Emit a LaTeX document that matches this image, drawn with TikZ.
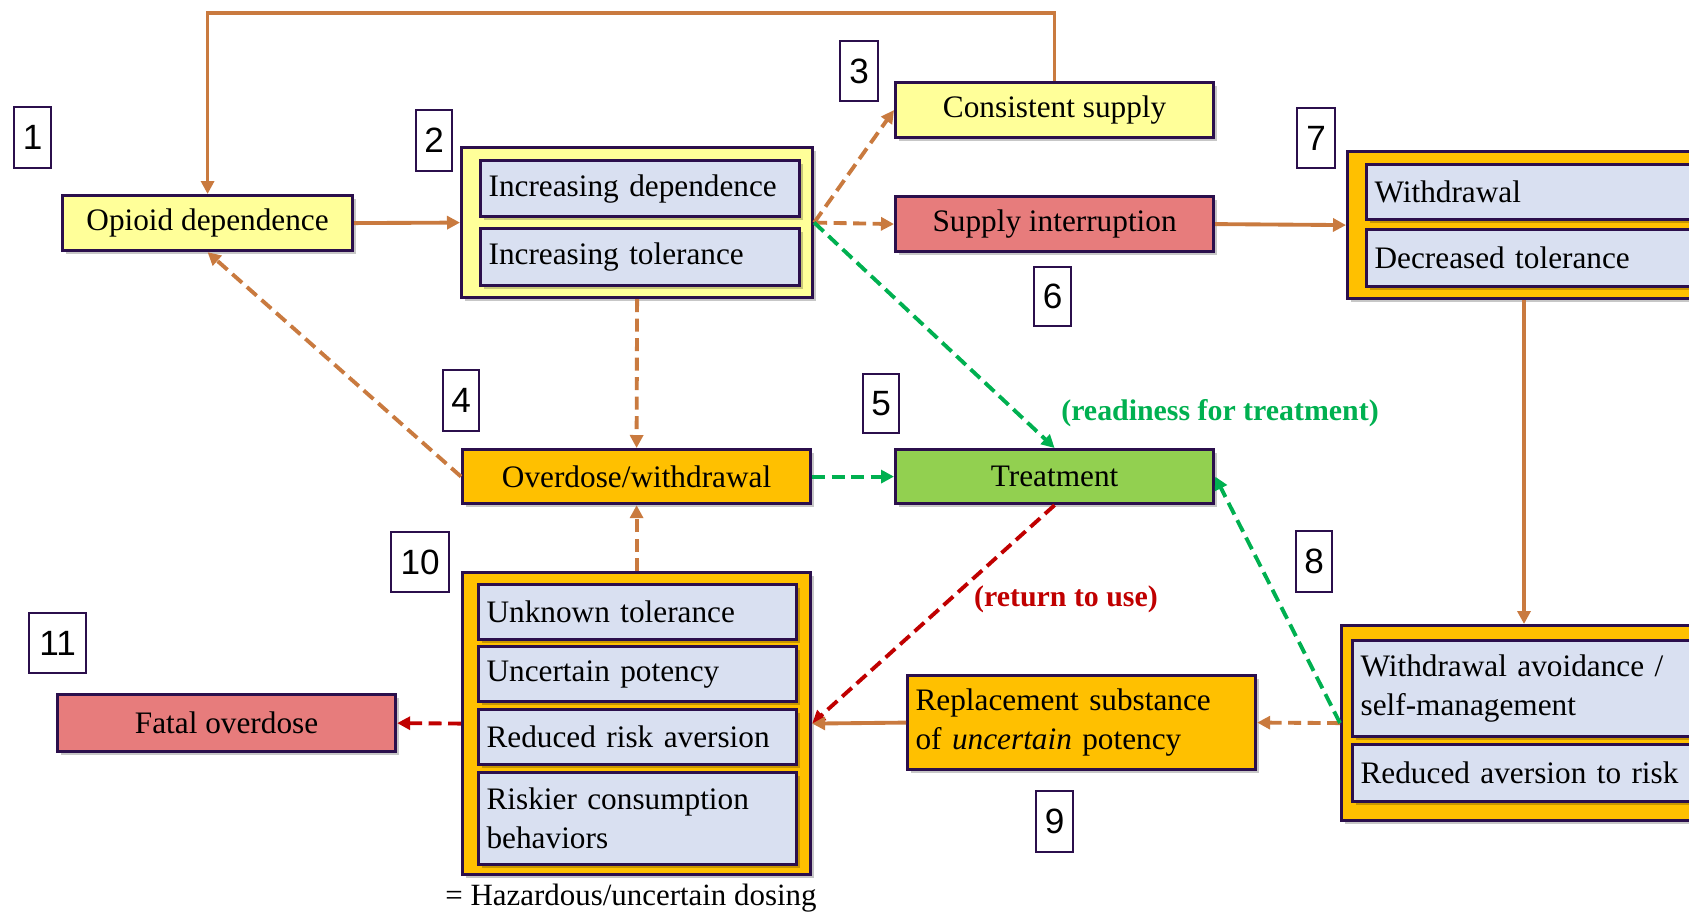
\documentclass[tikz,border=0pt]{standalone}
\usepackage{fontspec}
\setmainfont{Liberation Serif}
\newfontfamily\numfont{Liberation Sans}
\usetikzlibrary{arrows.meta,shadows}
\definecolor{bord}{HTML}{2B0F4C}
\definecolor{yel}{HTML}{FFFF99}
\definecolor{org}{HTML}{FFC000}
\definecolor{blu}{HTML}{D9E0F1}
\definecolor{pnk}{HTML}{E77C7C}
\definecolor{grn}{HTML}{92D050}
\definecolor{arr}{HTML}{C97A3F}
\definecolor{garr}{HTML}{00B050}
\definecolor{rarr}{HTML}{C00000}
\tikzset{
  box/.style={draw=bord, line width=1.8pt, anchor=north west, inner sep=0pt,
    font=\fontsize{17.8}{22}\selectfont, execute at begin node={\hyphenpenalty=10000},
    drop shadow={shadow xshift=0.07cm, shadow yshift=-0.07cm, opacity=0.22, fill=black}},
  sz/.style 2 args={minimum width=#1*0.02cm, minimum height=#2*0.02cm},
  lsz/.style 2 args={minimum width=#1*0.02cm, minimum height=#2*0.02cm,
    text width=#1*0.02cm-0.32cm, align=left},
  num/.style={draw=bord, line width=1.3pt, fill=white, anchor=north west, inner sep=0pt,
    font=\numfont\fontsize{20}{24}\selectfont},
  con/.style={draw=arr, line width=2.2pt, -{Triangle[length=0.26cm,width=0.26cm]}},
  dsh/.style={dash pattern=on 0.26cm off 0.13cm},
  lab/.style={font=\bfseries\fontsize{17}{20}\selectfont}
}
\begin{document}
\begin{tikzpicture}[x=0.02cm, y=-0.02cm]
\useasboundingbox (0,0) rectangle (1689,913);
\clip (0,0) rectangle (1689,913);
% number boxes
\node[num, sz={37}{61}] (n1) at (13,106) {1};
\node[num, sz={36}{61}] (n2) at (415,109) {2};
\node[num, sz={38}{60}] (n3) at (839,40) {3};
\node[num, sz={36}{61}] (n4) at (442,369) {4};
\node[num, sz={36}{59}] (n5) at (862,373) {5};
\node[num, sz={37}{59}] (n6) at (1033,266) {6};
\node[num, sz={38}{60}] (n7) at (1296,107) {7};
\node[num, sz={36}{61}] (n8) at (1295,530) {8};
\node[num, sz={37}{61}] (n9) at (1035,790) {9};
\node[num, sz={58}{60}] (n10) at (390,531) {10};
\node[num, sz={57}{60}] (n11) at (28,612) {11};
% main boxes
\node[box, fill=yel, sz={290}{55}] (opioid) at (61,194) {Opioid dependence};
\node[box, fill=yel, sz={351}{150}] (c2) at (460,146) {};
\node[box, fill=blu, lsz={319}{56}] (incdep) at (479,159) {Increasing dependence};
\node[box, fill=blu, lsz={319}{57}] (inctol) at (479,227) {Increasing tolerance};
\node[box, fill=yel, sz={318}{55}] (cons) at (894,81) {Consistent supply};
\node[box, fill=pnk, sz={318}{55}] (supint) at (894,195) {Supply interruption};
\node[box, fill=org, sz={380}{147}] (c7) at (1346,150) {};
\node[box, fill=blu, lsz={360}{55}] (withd) at (1365,163) {Withdrawal};
\node[box, fill=blu, lsz={360}{57}] (dectol) at (1365,228) {Decreased tolerance};
\node[box, fill=org, sz={348}{54}] (overd) at (461,448) {Overdose/withdrawal};
\node[box, fill=grn, sz={318}{54}] (treat) at (894,448) {Treatment};
\node[box, fill=org, sz={348}{302}] (c10) at (461,571) {};
\node[box, fill=blu, lsz={318}{55}] (unk) at (477,583) {Unknown tolerance};
\node[box, fill=blu, lsz={318}{55}] (unc) at (477,645) {Uncertain potency};
\node[box, fill=blu, lsz={318}{55}] (redra) at (477,708) {Reduced risk aversion};
\node[box, fill=blu, lsz={318}{92}] (risk) at (477,771) {Riskier consumption\\behaviors};
\node[box, fill=pnk, sz={338}{57}] (fatal) at (56,693) {Fatal overdose};
\node[box, fill=org, lsz={348}{94}] (repl) at (906,674) {Replacement substance\\of \textit{uncertain} potency};
\node[box, fill=org, sz={380}{195}] (c8) at (1340,624) {};
\node[box, fill=blu, lsz={370}{96}] (wav) at (1351,639) {Withdrawal avoidance /\\self-management};
\node[box, fill=blu, lsz={370}{57}] (redav) at (1351,743) {Reduced aversion to risk};
% labels
\node[lab, text=garr] (lready) at (1220,413) {(readiness for treatment)};
\node[lab, text=rarr] (lret) at (1066,599) {(return to use)};
\node[font=\fontsize{17.6}{20}\selectfont] (cap) at (631,898) {= Hazardous/uncertain dosing};
% connectors
\coordinate (loop) at (0,13);
\coordinate (vl) at (1524,0);
\draw[con, line width=1.9pt] (cons.north) -- (cons.north |- loop) -- (opioid.north |- loop) -- (opioid.north);
\draw[con] (opioid.east) -- (c2.west);
\draw[con, dsh] (c2.east) -- (cons.west);
\draw[con, dsh] (c2.east) -- (supint.west);
\draw[con, dsh, draw=garr] (c2.east) -- (treat.north);
\draw[con] (supint.east) -- (c7.west);
\draw[con, dsh] (c2.south) -- (overd.north);
\draw[con, dsh] (overd.west) -- (opioid.south);
\draw[con, dsh, draw=garr] (overd.east) -- (treat.west);
\draw[con, dsh] (c10.north) -- (overd.south);
\draw[con, line width=1.9pt] (c7.south -| vl) -- (c8.north -| vl);
\draw[con, dsh, draw=rarr] (treat.south) -- (c10.east);
\draw[con] (repl.west) -- (c10.east);
\draw[con, dsh] (c8.west) -- (repl.east);
\draw[con, dsh, draw=garr] (c8.west) -- (treat.east);
\draw[con, dsh, draw=rarr] (c10.west) -- (fatal.east);
\end{tikzpicture}
\end{document}
